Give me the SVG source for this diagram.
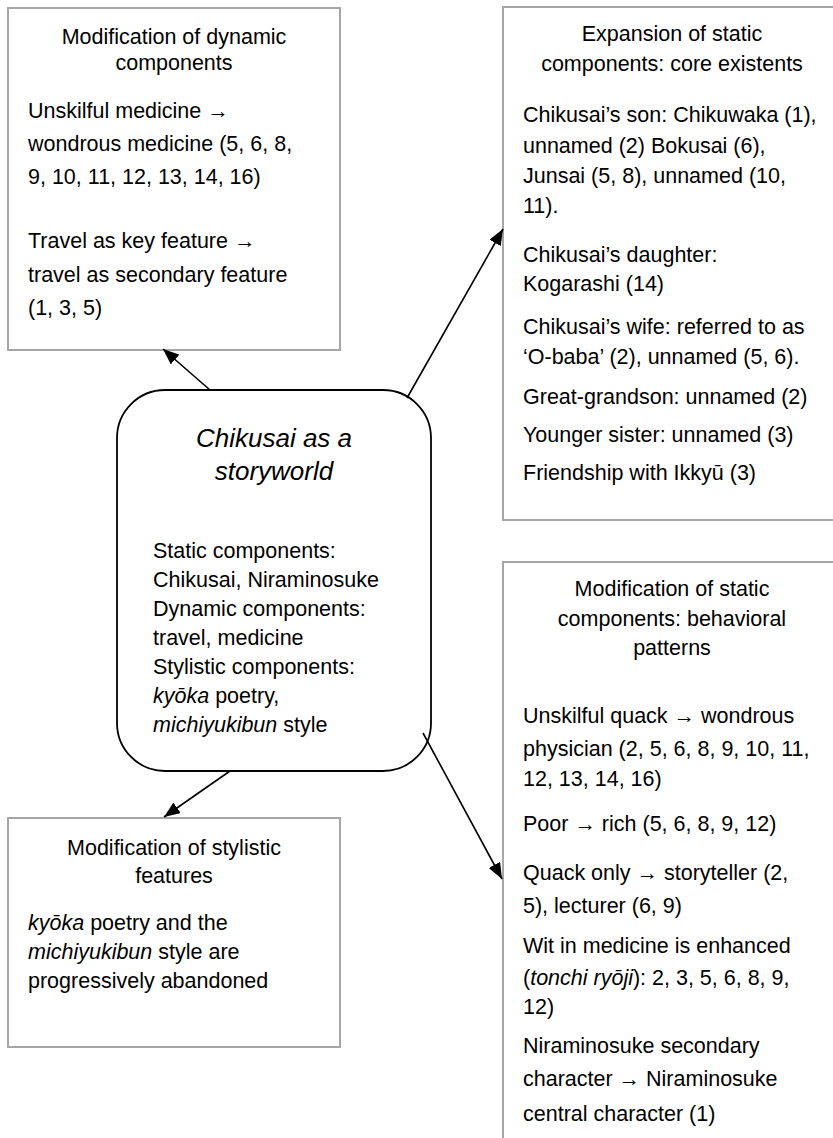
<svg xmlns="http://www.w3.org/2000/svg" width="833" height="1138" viewBox="0 0 833 1138">
<style>
text{font-family:"Liberation Sans",Arial,sans-serif;font-size:21.5px;fill:#000}
.c{text-anchor:middle}
.i{font-style:italic}
.box{fill:#fff;stroke:#a6a6a6;stroke-width:2}
.core{fill:#fff;stroke:#000;stroke-width:1.8}
.conn line{stroke:#000;stroke-width:1.6;marker-end:url(#ah)}
.ttl{font-size:26px;font-style:italic}
</style>
<defs>
<marker id="ah" markerUnits="userSpaceOnUse" viewBox="0 0 16 13" markerWidth="16" markerHeight="13" refX="16" refY="6.5" orient="auto">
<path d="M0,0 L16,6.5 L0,13 z" fill="#000"/>
</marker>
</defs>
<rect width="833" height="1138" fill="#fff"/>

<g id="node-dynamic">
<rect class="box" x="8" y="8" width="332" height="342"/>
<text class="c" x="174" y="44">Modification of dynamic</text>
<text class="c" x="174" y="70">components</text>
<text x="28" y="118">Unskilful medicine →</text>
<text x="28" y="151">wondrous medicine (5, 6, 8,</text>
<text x="28" y="184">9, 10, 11, 12, 13, 14, 16)</text>
<text x="28" y="248">Travel as key feature →</text>
<text x="28" y="282">travel as secondary feature</text>
<text x="28" y="315">(1, 3, 5)</text>
</g>

<g id="node-existents">
<rect class="box" x="503" y="7" width="340" height="513"/>
<text class="c" x="672" y="41">Expansion of static</text>
<text class="c" x="672" y="71">components: core existents</text>
<text x="523" y="122">Chikusai’s son: Chikuwaka (1),</text>
<text x="523" y="153">unnamed (2) Bokusai (6),</text>
<text x="523" y="183">Junsai (5, 8), unnamed (10,</text>
<text x="523" y="213">11).</text>
<text x="523" y="262">Chikusai’s daughter:</text>
<text x="523" y="291">Kogarashi (14)</text>
<text x="523" y="334">Chikusai’s wife: referred to as</text>
<text x="523" y="364">‘O-baba’ (2), unnamed (5, 6).</text>
<text x="523" y="404">Great-grandson: unnamed (2)</text>
<text x="523" y="442">Younger sister: unnamed (3)</text>
<text x="523" y="480">Friendship with Ikkyū (3)</text>
</g>

<g id="node-behavioral">
<rect class="box" x="503" y="562" width="340" height="600"/>
<text class="c" x="672" y="596">Modification of static</text>
<text class="c" x="672" y="626">components: behavioral</text>
<text class="c" x="672" y="655">patterns</text>
<text x="523" y="723">Unskilful quack → wondrous</text>
<text x="523" y="756">physician (2, 5, 6, 8, 9, 10, 11,</text>
<text x="523" y="786">12, 13, 14, 16)</text>
<text x="523" y="831">Poor → rich (5, 6, 8, 9, 12)</text>
<text x="523" y="880">Quack only → storyteller (2,</text>
<text x="523" y="913">5), lecturer (6, 9)</text>
<text x="523" y="953">Wit in medicine is enhanced</text>
<text x="523" y="985">(<tspan class="i">tonchi ryōji</tspan>): 2, 3, 5, 6, 8, 9,</text>
<text x="523" y="1014">12)</text>
<text x="523" y="1053">Niraminosuke secondary</text>
<text x="523" y="1086">character → Niraminosuke</text>
<text x="523" y="1121">central character (1)</text>
</g>

<g id="node-stylistic">
<rect class="box" x="8" y="818" width="332" height="229"/>
<text class="c" x="174" y="855">Modification of stylistic</text>
<text class="c" x="174" y="883">features</text>
<text x="28" y="930"><tspan class="i">kyōka</tspan> poetry and the</text>
<text x="28" y="959"><tspan class="i">michiyukibun</tspan> style are</text>
<text x="28" y="988">progressively abandoned</text>
</g>

<g id="node-core">
<rect class="core" x="117" y="390" width="314" height="381" rx="48" ry="48"/>
<text class="c ttl" x="274" y="447">Chikusai as a</text>
<text class="c ttl" x="274" y="480">storyworld</text>
<text x="153" y="558">Static components:</text>
<text x="153" y="587">Chikusai, Niraminosuke</text>
<text x="153" y="616">Dynamic components:</text>
<text x="153" y="645">travel, medicine</text>
<text x="153" y="674">Stylistic components:</text>
<text x="153" y="703"><tspan class="i">kyōka</tspan> poetry,</text>
<text x="153" y="732"><tspan class="i">michiyukibun</tspan> style</text>
</g>

<g id="connectors" class="conn">
<line x1="210" y1="390" x2="163" y2="349"/>
<line x1="407" y1="398" x2="503" y2="229"/>
<line x1="230" y1="771" x2="164" y2="817"/>
<line x1="423" y1="733" x2="502" y2="879"/>
</g>
</svg>
